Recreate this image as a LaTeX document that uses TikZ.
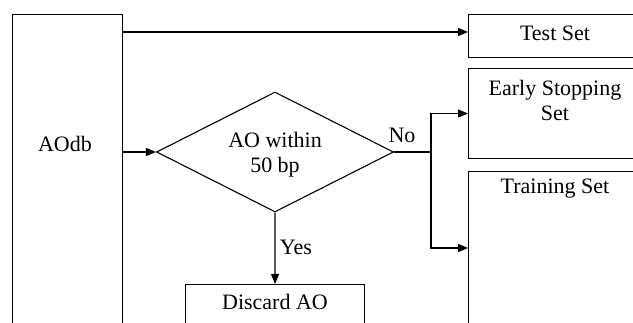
\documentclass[tikz,border=0pt]{standalone}
\usepackage{fontspec}
\setmainfont{Liberation Serif}
\usetikzlibrary{arrows.meta,shapes.geometric}
\begin{document}
\begin{tikzpicture}[x=1pt,y=-1pt, line width=1.1pt,
  >={Triangle[length=10pt,width=8pt]},
  box/.style={draw, rectangle, inner sep=0pt, anchor=north west},
  txt/.style={inner sep=0pt, align=center, font=\fontsize{22}{25}\selectfont},
  decision/.style={draw, diamond, inner sep=0pt, minimum width=237pt, minimum height=120pt}]
\useasboundingbox (0,0) rectangle (633,323);
\clip (0,0) rectangle (633,323);
\fill[white] (0,0) rectangle (633,323);
% boxes
\node[box, minimum width=110pt, minimum height=360pt] (aodb) at (12,14) {};
\node[box, minimum width=220pt, minimum height=43pt] (test) at (468,14) {};
\node[box, minimum width=220pt, minimum height=90pt] (early) at (468,68) {};
\node[box, minimum width=220pt, minimum height=220pt] (train) at (468,171) {};
\node[box, minimum width=179pt, minimum height=80pt] (discard) at (185,284) {};
\node[decision] (dia) at (275,152) {};
% texts
\node[txt] (aodbt) at (65,143.5) {AOdb};
\node[txt] (testt) at (555,33) {Test Set};
\node[txt] (earlyt) at (555,100) {Early Stopping\\Set};
\node[txt] (traint) at (555,189) {Training Set};
\node[txt] (discardt) at (275,302) {Discard AO};
\node[txt] (diat) at (275,155) {AO within\\50 bp};
\node[txt] (no) at (402,135) {No};
\node[txt] (yes) at (296,247) {Yes};
% connectors
\coordinate (ta) at (468,32);
\coordinate (split) at (431,152);
\coordinate (tr) at (468,248);
\draw[->] (aodb.east |- ta) -- (ta);
\draw[->] (aodb.east |- dia.west) -- (dia.west);
\draw (dia.east) -- (split);
\draw[->] (split) |- (early.west);
\draw[->] (split) |- (tr);
\draw[->] (dia.south) -- (discard.north);
\end{tikzpicture}
\end{document}
